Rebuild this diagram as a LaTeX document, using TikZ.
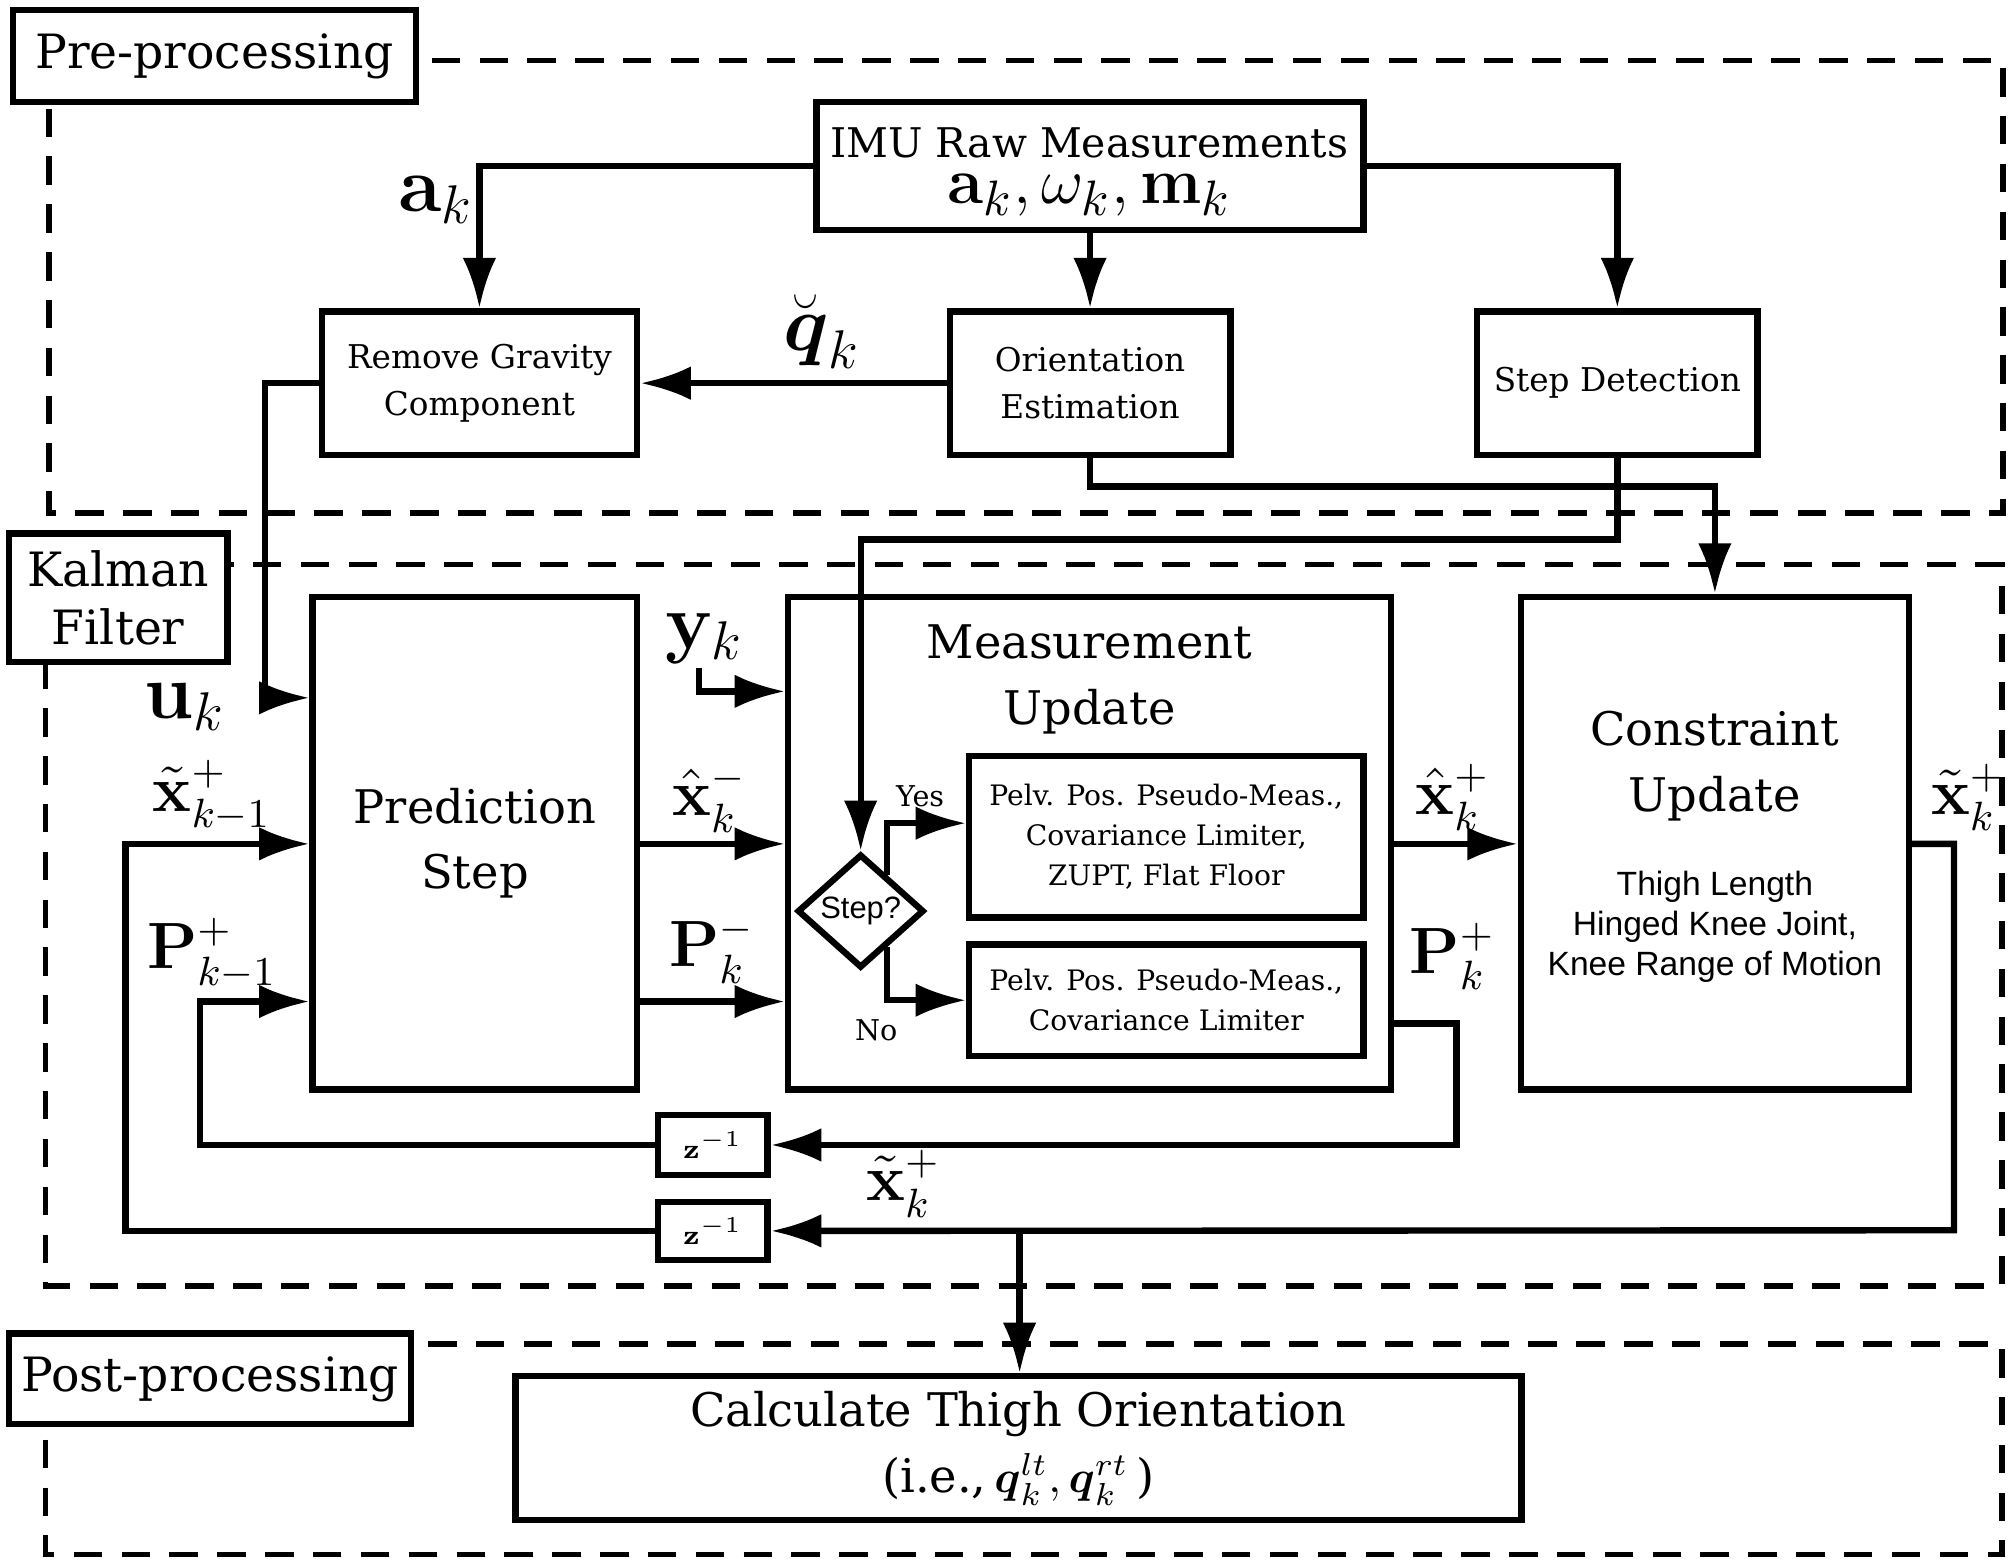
\documentclass[tikz,border=0pt]{standalone}
\usepackage[no-math]{fontspec}
\usepackage{amsmath}
\setmainfont{DejaVu Serif}
\setsansfont{Liberation Sans}
\usetikzlibrary{arrows.meta,shapes.geometric,calc}
\begin{document}
\begin{tikzpicture}[x=0.01cm,y=-0.01cm,line width=1.4pt,
	>={Latex[length=3.9mm,width=2.6mm]},
	box/.style={draw,fill=white,inner sep=0pt,align=center},
	region/.style={draw,line width=1.2pt,dash pattern=on 2.2mm off 1.5mm},
	tag/.style={box,font=\fontsize{10.4}{12.8}\selectfont},
	title/.style={inner sep=0pt,align=center,font=\fontsize{10.2}{14.5}\selectfont},
	small/.style={font=\fontsize{7.2}{10.5}\selectfont},
	tiny/.style={font=\fontsize{6.2}{8.8}\selectfont},
	sig/.style={inner sep=0pt,font=\fontsize{13.5}{13.5}\selectfont},
	bigsig/.style={inner sep=0pt,font=\fontsize{16.5}{16.5}\selectfont}]
	\useasboundingbox (0,0) rectangle (1560,1207);
	\draw[region] (38,47) rectangle (1550,397);
	\draw[region] (35,437) rectangle (1549,995);
	\draw[region] (35,1040) rectangle (1549,1203);
	\node[tag,minimum width=3.12cm,minimum height=0.71cm] (pre) at (166,43.5) {Pre-processing};
	\node[tag,minimum width=1.69cm,minimum height=0.99cm] (kal) at (91.5,462.5) {Kalman\\Filter};
	\node[tag,minimum width=3.11cm,minimum height=0.70cm] (post) at (162.5,1067) {Post-processing};
	\node[box,minimum width=4.23cm,minimum height=0.99cm] (imu) at (843.5,128.5) {};
	\node[inner sep=0pt,align=center,font=\fontsize{9}{11}\selectfont] (imutxt) at (843,133) {IMU Raw Measurements\\[-1pt]{\fontsize{15}{15}\selectfont$\mathbf{a}_k,\omega_k,\mathbf{m}_k$}};
	\node[box,small,minimum width=2.44cm,minimum height=1.11cm] (grav) at (371,296.5) {Remove Gravity\\Component};
	\node[box,small,minimum width=2.17cm,minimum height=1.11cm] (orient) at (843.5,296.5) {Orientation\\Estimation};
	\node[box,small,minimum width=2.17cm,minimum height=1.11cm] (stepdet) at (1251.5,296.5) {Step Detection};
	\node[box,title,minimum width=2.51cm,minimum height=3.81cm] (pred) at (367.5,652.5) {Prediction\\Step};
	\node[box,minimum width=4.66cm,minimum height=3.81cm] (meas) at (843,652.5) {};
	\node[title] (meastxt) at (843,526) {Measurement\\Update};
	\node[box,tiny,minimum width=3.05cm,minimum height=1.25cm] (pvl) at (902.5,647.5) {Pelv. Pos. Pseudo-Meas.,\\Covariance Limiter,\\ZUPT, Flat Floor};
	\node[box,tiny,minimum width=3.05cm,minimum height=0.86cm] (pvlb) at (902.5,774) {Pelv. Pos. Pseudo-Meas.,\\Covariance Limiter};
	\node[diamond,draw,fill=white,minimum width=0.98cm,minimum height=0.88cm,inner sep=0pt] (dec) at (666,705) {};
	\node[inner sep=0pt,font=\sffamily\fontsize{6.8}{6.8}\selectfont] (dectxt) at (dec) {Step?};
	\node[inner sep=0pt,font=\fontsize{6.3}{6.3}\selectfont] (yes) at (712,616) {Yes};
	\node[inner sep=0pt,font=\fontsize{6.3}{6.3}\selectfont] (no) at (678,797) {No};
	\node[box,minimum width=3.00cm,minimum height=3.81cm] (constr) at (1327,652.5) {};
	\node[title] (constrtxt) at (1327,593) {Constraint\\Update};
	\node[inner sep=0pt,align=center,font=\sffamily\fontsize{7.4}{8.8}\selectfont] (constrsub) at (1327,717) {Thigh Length\\Hinged Knee Joint,\\Knee Range of Motion};
	\node[box,minimum width=0.85cm,minimum height=0.46cm,font=\fontsize{6.5}{6.5}\selectfont] (zP) at (551.5,886) {$\mathbf{z}^{-1}$};
	\node[box,minimum width=0.85cm,minimum height=0.45cm,font=\fontsize{6.5}{6.5}\selectfont] (zX) at (551.5,952.5) {$\mathbf{z}^{-1}$};
	\node[box,title,minimum width=7.78cm,minimum height=1.11cm] (calc) at (788,1120.5) {Calculate Thigh Orientation\\(i.e.,\,$\boldsymbol{q}_k^{lt},\boldsymbol{q}_k^{rt}$\,)};
	\node[bigsig] (ak) at (337,155) {$\mathbf{a}_k$};
	\node[bigsig] (qk) at (636,257) {$\breve{\boldsymbol{q}}_k$};
	\node[bigsig] (uk) at (143,547) {$\mathbf{u}_k$};
	\node[bigsig] (yk) at (545,494) {$\mathbf{y}_k$};
	\node[sig] (xprev) at (164,616) {$\tilde{\mathbf{x}}^+_{k-1}$};
	\node[sig] (Pprev) at (164,738) {$\mathbf{P}^+_{k-1}$};
	\node[sig] (xminus) at (549,618) {$\hat{\mathbf{x}}^-_k$};
	\node[sig] (Pminus) at (551,735) {$\mathbf{P}^-_k$};
	\node[sig] (xplus) at (1124,617) {$\hat{\mathbf{x}}^+_k$};
	\node[sig] (Pplus) at (1124,740) {$\mathbf{P}^+_k$};
	\node[sig] (xout) at (1523,617) {$\tilde{\mathbf{x}}^+_k$};
	\node[sig] (xfb) at (699,916) {$\tilde{\mathbf{x}}^+_k$};
	\draw[->] (imu.west) -| (grav.north);
	\draw[->] (imu.south) -- (orient.north);
	\draw[->] (imu.east) -| (stepdet.north);
	\draw[->] (orient.west) -- (grav.east);
	\draw[->] (grav.west) -| (205,540) -- (pred.west|-0,540);
	\draw[->] (orient.south) -- ++(0,22) -| (constr.north);
	\draw[->] (stepdet.south) -- ++(0,63) -| (dec.north);
	\coordinate (yin) at (541,517);
	\draw[->] (yin) |- (meas.west|-0,535);
	\draw[->] (pred.east|-0,653) -- (meas.west|-0,653);
	\draw[->] (pred.east|-0,775) -- (meas.west|-0,775);
	\draw[->] ($(dec.north)!0.4!(dec.east)$) |- (pvl.west|-0,637);
	\draw[->] ($(dec.south)!0.4!(dec.east)$) |- (pvlb.west);
	\draw[->] (meas.east|-0,653) -- (constr.west|-0,653);
	\draw[->] (meas.east|-0,792) -| (1127,886) -- (zP.east);
	\draw[->] (zP.west) -| (155,775) -- (pred.west|-0,775);
	\draw[->] (constr.east|-0,653) -| (1512,952) -- (zX.east);
	\draw[->] (zX.west) -| (97,653) -- (pred.west|-0,653);
	\coordinate (tap) at (789,952);
	\draw[->] (tap) -- (tap|-calc.north);
\end{tikzpicture}
\end{document}
